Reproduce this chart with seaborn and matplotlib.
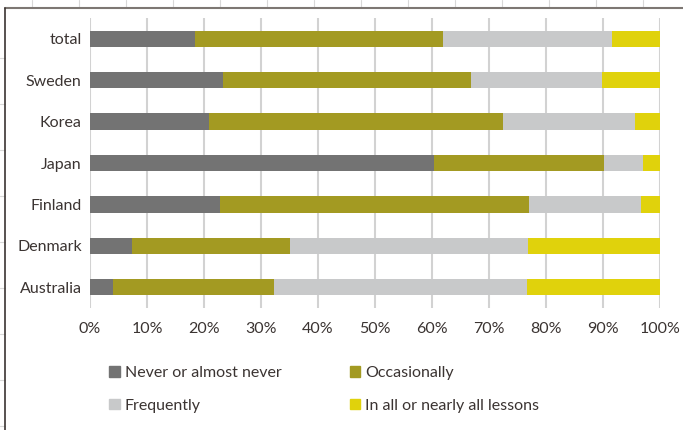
import pandas as pd
import seaborn as sns
import matplotlib.pyplot as plt
from matplotlib.lines import Line2D
from matplotlib.patches import Patch

countries = ["total", "Sweden", "Korea", "Japan", "Finland", "Denmark", "Australia"]
never = [18.4, 23.3, 20.8, 60.4, 22.8, 7.4, 4.0]
occasionally = [43.5, 43.6, 51.7, 29.8, 54.2, 27.6, 28.2]
frequently = [29.6, 23.0, 23.1, 6.8, 19.7, 41.8, 44.4]
all_lessons = [8.5, 10.1, 4.4, 3.0, 3.3, 23.2, 23.4]

labels = ["Never or almost never", "Occasionally", "Frequently", "In all or nearly all lessons"]
colors = ["#737373", "#a39a22", "#c8c9ca", "#e0d20c"]
txt = "#3b3432"

sns.set_style("white")
plt.rcParams["font.family"] = ["Lato", "DejaVu Sans"]

df = pd.DataFrame({"country": countries, labels[0]: never, labels[1]: occasionally,
                   labels[2]: frequently, labels[3]: all_lessons})
cum = df[labels].cumsum(axis=1)
cum["country"] = df["country"]

fig = plt.figure(figsize=(6.83, 4.30), dpi=100)
ax = fig.add_axes([90 / 683, 1 - 308 / 430, 570 / 683, 290 / 430])

# draw from the longest cumulative layer back to the first
for lab, col in zip(labels[::-1], colors[::-1]):
    sns.barplot(data=cum, x=lab, y="country", order=countries, color=col,
                width=0.39, saturation=1, ax=ax, orient="h", edgecolor="none", zorder=3)

ax.set_xlim(0, 100)
ax.set_ylim(6.5, -0.5)
ax.set_xticks(range(0, 101, 10))
ax.set_xticklabels([f"{v}%" for v in range(0, 101, 10)])
ax.grid(axis="x", color="#d2d2d2", linewidth=1.5, zorder=0)
ax.set_axisbelow(True)
for s in ax.spines.values():
    s.set_visible(False)
ax.set_xlabel("")
ax.set_ylabel("")
ax.tick_params(axis="both", length=0, labelsize=11.5, colors=txt, pad=6)
ax.tick_params(axis="x", pad=10)

handles = [Patch(color=c) for c in colors]
order = [0, 2, 1, 3]
fig.legend([handles[i] for i in order], [labels[i] for i in order], ncol=2,
           loc="upper left", bbox_to_anchor=(103 / 683, 1 - 360 / 430), frameon=False,
           fontsize=11.5, labelcolor=txt, handlelength=0.65, handleheight=0.65,
           handletextpad=0.3, columnspacing=4.3, labelspacing=1.15, borderaxespad=0)

# spreadsheet frame and cell lines around the embedded chart
for x in range(32, 683, 47):
    fig.add_artist(Line2D([x / 683, x / 683], [1, 1 - 8 / 430], color="#d8d8d8", lw=0.8))
for y in range(58, 430, 46):
    fig.add_artist(Line2D([0, 5 / 683], [1 - y / 430, 1 - y / 430], color="#d8d8d8", lw=0.8))
fig.add_artist(Line2D([5 / 683, 1], [1 - 8 / 430, 1 - 8 / 430], color="#7d7773", lw=1.5))
fig.add_artist(Line2D([5 / 683, 5 / 683], [1 - 8 / 430, 0], color="#3b3432", lw=1.2))

fig.savefig("out.png", dpi=100)
